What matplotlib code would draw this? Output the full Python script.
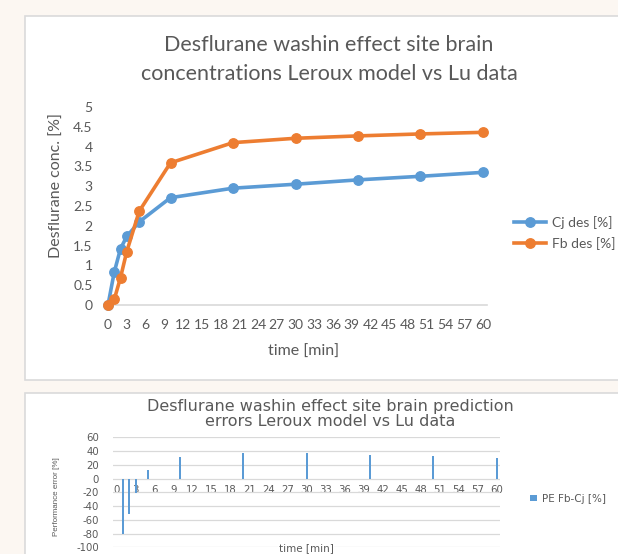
import matplotlib
matplotlib.use("Agg")
import matplotlib.pyplot as plt
from matplotlib.patches import Rectangle

plt.rcParams["axes.unicode_minus"] = False

# data
time_min = [0, 1, 2, 3, 5, 10, 20, 30, 40, 50, 60]
cj_des = [0, 0.83, 1.42, 1.73, 2.10, 2.71, 2.95, 3.05, 3.16, 3.25, 3.35]
fb_des = [0, 0.14, 0.69, 1.35, 2.37, 3.59, 4.10, 4.21, 4.27, 4.32, 4.36]

pe_time = [1, 2, 3, 5, 10, 20, 30, 40, 50, 60]
pe_fb_cj = [-80.7, -51.6, -21.6, 12.4, 30.8, 37.6, 37.1, 34.2, 32.7, 29.4]

x_ticks = list(range(0, 61, 3))
y_ticks_top = [0, 0.5, 1, 1.5, 2, 2.5, 3, 3.5, 4, 4.5, 5]
y_ticks_bot = [-100, -80, -60, -40, -20, 0, 20, 40, 60]

W, H = 618, 554
BLUE = "#5B9BD5"
ORANGE = "#ED7D31"
GREY = "#595959"
GRID = "#D9D9D9"


def fx(px):
    return px / W


def fy(py):
    return 1 - py / H


def axes_box(left, top, right, bottom):
    return [fx(left), fy(bottom), (right - left) / W, (bottom - top) / H]


fig = plt.figure(figsize=(W / 100, H / 100), dpi=100, facecolor="#FCF7F2")

# white panels
for (l, t, r, b) in [(25, 16, 640, 380), (25, 393, 640, 570)]:
    fig.add_artist(Rectangle((fx(l), fy(b)), (r - l) / W, (b - t) / H,
                             transform=fig.transFigure, facecolor="white",
                             edgecolor="#DADADA", linewidth=1.2, zorder=0))

# ---- top chart ----
ax = fig.add_axes(axes_box(108, 107, 486.75, 305))
ax.set_facecolor("none")
ax.plot(time_min, cj_des, color=BLUE, lw=2.6, marker="o", ms=6.8,
        label="Cj des [%]", clip_on=False, zorder=3)
ax.plot(time_min, fb_des, color=ORANGE, lw=2.6, marker="o", ms=6.8,
        label="Fb des [%]", clip_on=False, zorder=4)
ax.set_xlim(0, 60.6)
ax.set_ylim(0, 5)
ax.set_xticks(x_ticks)
ax.set_yticks(y_ticks_top)
ax.set_yticklabels([f"{v:g}" for v in y_ticks_top])
for s in ["top", "right", "left"]:
    ax.spines[s].set_visible(False)
ax.spines["bottom"].set_color(GRID)
ax.spines["bottom"].set_linewidth(1.2)
ax.tick_params(length=0, labelcolor=GREY, labelsize=10)
ax.tick_params(axis="y", pad=11)
ax.tick_params(axis="x", pad=10)
for lab in ax.get_xticklabels() + ax.get_yticklabels():
    lab.set_family("Lato")

fig.text(fx(329), fy(45), "Desflurane washin effect site brain",
         ha="center", va="center", fontsize=15.5, color=GREY, family="Lato")
fig.text(fx(329), fy(74), "concentrations Leroux model vs Lu data",
         ha="center", va="center", fontsize=15.5, color=GREY, family="Lato")
fig.text(fx(57), fy(186), "Desflurane conc. [%]", rotation=90,
         ha="center", va="center", fontsize=11.5, color=GREY, family="Lato")
fig.text(fx(304), fy(352), "time [min]", ha="center", va="center",
         fontsize=11.5, color=GREY, family="Lato")

leg = ax.legend(loc="center left", bbox_to_anchor=(fx(514), fy(233)),
                bbox_transform=fig.transFigure, frameon=False,
                prop={"family": "Lato", "size": 10}, handlelength=2.3,
                handletextpad=0.4, labelspacing=0.6, borderpad=0,
                borderaxespad=0)
for t in leg.get_texts():
    t.set_color(GREY)

# ---- bottom chart ----
ax2 = fig.add_axes(axes_box(113, 437.3, 500, 547.3))
ax2.set_facecolor("none")
ax2.bar(pe_time, pe_fb_cj, width=0.32, color=BLUE, label="PE Fb-Cj [%]",
        zorder=3)
ax2.set_xlim(-0.58, 60.55)
ax2.set_ylim(-100, 60)
ax2.set_xticks(x_ticks)
ax2.set_yticks(y_ticks_bot)
ax2.grid(axis="y", color=GRID, lw=0.9)
ax2.set_axisbelow(True)
for s in ["top", "right", "left"]:
    ax2.spines[s].set_visible(False)
ax2.spines["bottom"].set_position(("data", 0))
ax2.spines["bottom"].set_visible(False)
ax2.tick_params(length=0, labelcolor=GREY, labelsize=7.3)
ax2.tick_params(axis="y", pad=10)
ax2.tick_params(axis="x", pad=5)

fig.text(fx(330), fy(407), "Desflurane washin effect site brain prediction",
         ha="center", va="center", fontsize=11.5, color=GREY)
fig.text(fx(330), fy(421.7), "errors Leroux model vs Lu data",
         ha="center", va="center", fontsize=11.5, color=GREY)
fig.text(fx(57), fy(497), "Performance error [%]", rotation=90,
         ha="center", va="center", fontsize=5.8, color=GREY,
         family="Liberation Sans")
fig.text(fx(306), fy(551.5), "time [min]", ha="center", va="baseline",
         fontsize=7.5, color=GREY, zorder=5,
         bbox=dict(facecolor="white", edgecolor="none", pad=0.5))

leg2 = ax2.legend(loc="center left", bbox_to_anchor=(fx(530), fy(499)),
                  bbox_transform=fig.transFigure, frameon=False,
                  prop={"size": 7.5}, handlelength=0.7, handleheight=0.45,
                  handletextpad=0.5, borderpad=0, borderaxespad=0)
for t in leg2.get_texts():
    t.set_color(GREY)

fig.savefig("out.png", dpi=100, facecolor=fig.get_facecolor())
